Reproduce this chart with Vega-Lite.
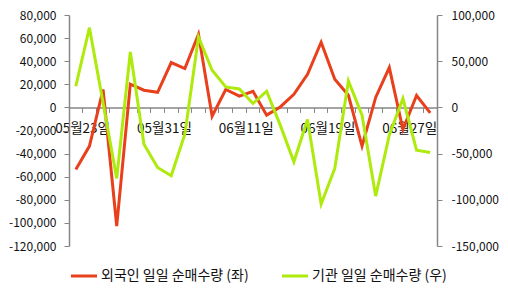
{
  "$schema": "https://vega.github.io/schema/vega-lite/v6.json",
  "width": 368,
  "height": 231,
  "autosize": "none",
  "padding": {"left": 69, "top": 15, "right": 71, "bottom": 48},
  "background": "white",
  "config": {
    "view": {"stroke": null},
    "font": "Noto Sans CJK KR",
    "axis": {"grid": false, "domainColor": "#868686", "tickColor": "#868686", "labelColor": "#111", "labelFontSize": 12, "tickSize": 5, "domainWidth": 1.5, "tickWidth": 1}
  },
  "data": {
    "values": [
      {"date": "05월23일", "foreign": -53700, "inst": 22900},
      {"date": "05월24일", "foreign": -33500, "inst": 86300},
      {"date": "05월25일", "foreign": 15500, "inst": 4900},
      {"date": "05월28일", "foreign": -102700, "inst": -76900},
      {"date": "05월29일", "foreign": 20100, "inst": 60000},
      {"date": "05월30일", "foreign": 14900, "inst": -39800},
      {"date": "05월31일", "foreign": 13100, "inst": -65000},
      {"date": "06월01일", "foreign": 38800, "inst": -74000},
      {"date": "06월04일", "foreign": 33600, "inst": -29000},
      {"date": "06월05일", "foreign": 63300, "inst": 76200},
      {"date": "06월07일", "foreign": -7600, "inst": 40200},
      {"date": "06월08일", "foreign": 15500, "inst": 22200},
      {"date": "06월11일", "foreign": 9700, "inst": 20000},
      {"date": "06월12일", "foreign": 14000, "inst": 4200},
      {"date": "06월13일", "foreign": -6700, "inst": 17500},
      {"date": "06월14일", "foreign": 400, "inst": -19200},
      {"date": "06월15일", "foreign": 11400, "inst": -58900},
      {"date": "06월18일", "foreign": 28700, "inst": -13100},
      {"date": "06월19일", "foreign": 56400, "inst": -104600},
      {"date": "06월20일", "foreign": 24400, "inst": -66100},
      {"date": "06월21일", "foreign": 10500, "inst": 28700},
      {"date": "06월22일", "foreign": -33500, "inst": -8400},
      {"date": "06월25일", "foreign": 8600, "inst": -96000},
      {"date": "06월26일", "foreign": 34500, "inst": -30000},
      {"date": "06월27일", "foreign": -19100, "inst": 9600},
      {"date": "06월28일", "foreign": 10300, "inst": -46300},
      {"date": "06월29일", "foreign": -4700, "inst": -48800}
    ]
  },
  "encoding": {
    "x": {
      "field": "date",
      "type": "ordinal",
      "sort": null,
      "bandPosition": 0.5,
      "scale": {"type": "band", "paddingInner": 0, "paddingOuter": 0},
      "axis": {
        "orient": "bottom",
        "offset": -138.6,
        "bandPosition": 0,
        "labelOffset": 6.8,
        "labelAngle": 0,
        "labelOverlap": false,
        "labelPadding": 9,
        "labelFontSize": 13.5,
        "title": null,
        "labelExpr": "indexof(['05월23일','05월31일','06월11일','06월19일','06월27일'], datum.value) >= 0 ? datum.value : ''"
      }
    }
  },
  "layer": [
    {
      "mark": {"type": "line", "strokeWidth": 3},
      "encoding": {
        "y": {
          "field": "foreign",
          "type": "quantitative",
          "scale": {"domain": [-120000, 80000], "nice": false, "zero": false},
          "axis": {
            "orient": "left",
            "title": null,
            "values": [-120000, -100000, -80000, -60000, -40000, -20000, 0, 20000, 40000, 60000, 80000],
            "labelPadding": 8,
            "labelExpr": "replace(format(datum.value, ','), '−', '-')"
          }
        },
        "color": {
          "datum": "외국인 일일 순매수량 (좌)",
          "type": "nominal",
          "scale": {"domain": ["외국인 일일 순매수량 (좌)", "기관 일일 순매수량 (우)"], "range": ["#E8401C", "#AEEA0C"]},
          "legend": {
            "orient": "none",
            "legendX": 0,
            "legendY": 246,
            "direction": "horizontal",
            "title": null,
            "symbolType": "stroke",
            "symbolStrokeWidth": 3,
            "symbolSize": 680,
            "labelFontSize": 14,
            "labelColor": "#111",
            "labelOffset": 2,
            "columnPadding": 26,
            "labelLimit": 300
          }
        }
      }
    },
    {
      "mark": {"type": "line", "strokeWidth": 3},
      "encoding": {
        "y": {
          "field": "inst",
          "type": "quantitative",
          "scale": {"domain": [-150000, 100000], "nice": false, "zero": false},
          "axis": {
            "orient": "right",
            "title": null,
            "values": [-150000, -100000, -50000, 0, 50000, 100000],
            "labelPadding": 9,
            "labelExpr": "replace(format(datum.value, ','), '−', '-')"
          }
        },
        "color": {"datum": "기관 일일 순매수량 (우)", "type": "nominal"}
      }
    }
  ],
  "resolve": {"scale": {"y": "independent"}}
}
